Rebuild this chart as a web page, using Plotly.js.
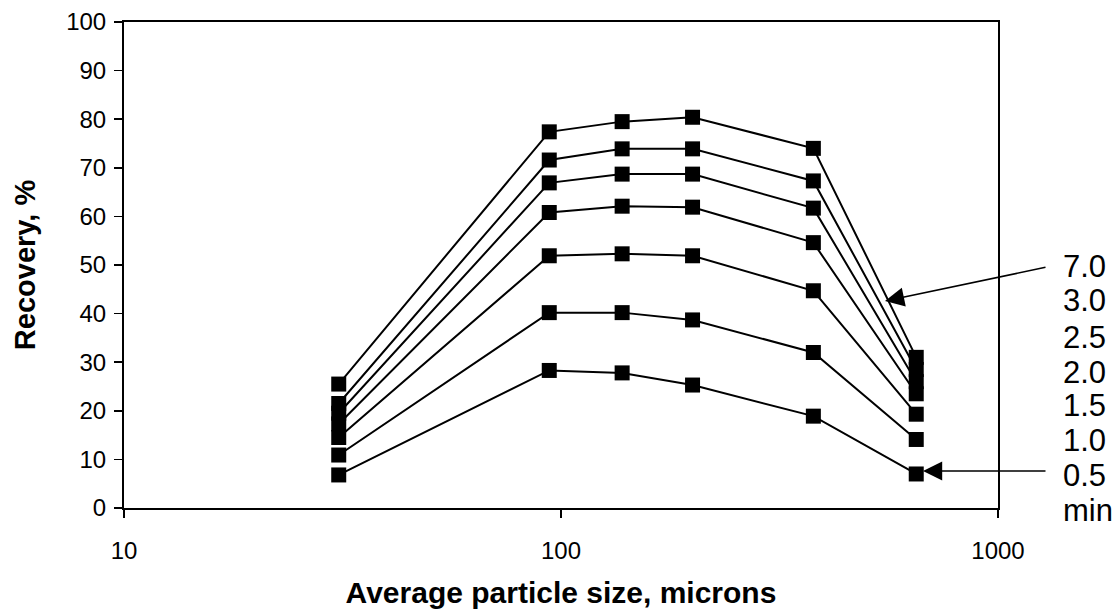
<!DOCTYPE html>
<html>
<head>
<meta charset="utf-8">
<script src="https://cdn.plot.ly/plotly-3.0.1.min.js"></script>
<style>
  html, body { margin: 0; padding: 0; background: #fff; }
  #chart { width: 1116px; height: 609px; }
</style>
</head>
<body>
<div id="chart"></div>
<script>
// Average particle size (microns)
const particleSize = [31, 94, 138, 200, 378, 650];

// Recovery (%) by flotation time
const timeLabels = ["7.0", "3.0", "2.5", "2.0", "1.5", "1.0", "0.5"];
const rec_7_0 = [25.5, 77.4, 79.5, 80.4, 74.0, 31.0];
const rec_3_0 = [21.5, 71.6, 73.9, 73.9, 67.3, 28.5];
const rec_2_5 = [19.5, 66.9, 68.7, 68.7, 61.7, 26.0];
const rec_2_0 = [17.3, 60.8, 62.1, 61.9, 54.6, 23.5];
const rec_1_5 = [14.5, 51.9, 52.3, 51.9, 44.7, 19.3];
const rec_1_0 = [10.9, 40.2, 40.2, 38.7, 32.0, 14.1];
const rec_0_5 = [6.8, 28.3, 27.8, 25.3, 18.9, 7.0];

const seriesList = [rec_7_0, rec_3_0, rec_2_5, rec_2_0, rec_1_5, rec_1_0, rec_0_5];

const traces = seriesList.map((ys, i) => ({
  x: particleSize,
  y: ys,
  name: timeLabels[i] + " min",
  type: "scatter",
  mode: "lines+markers",
  line: { color: "#000", width: 2 },
  marker: { symbol: "square", size: 15, color: "#000" },
  showlegend: false
}));

const font = { family: "Liberation Sans, Arial, sans-serif", color: "#000" };

// right-hand labels
const labelYs = [266, 300, 337, 372, 405, 440, 475]; // pixel rows of the labels
const annotations = [];
timeLabels.forEach((t, i) => {
  annotations.push({
    xref: "paper", yref: "paper",
    x: (1061 - 124) / 874, y: (508 - labelYs[i]) / 486,
    xanchor: "left", yanchor: "middle",
    text: t, showarrow: false,
    font: { family: font.family, size: 31, color: "#000" }
  });
});
annotations.push({
  xref: "paper", yref: "paper",
  x: (1061 - 124) / 874, y: (508 - 510) / 486,
  xanchor: "left", yanchor: "middle",
  text: "min", showarrow: false,
  font: { family: font.family, size: 31, color: "#000" }
});
// arrows
annotations.push({
  xref: "paper", yref: "paper",
  x: (885 - 124) / 874, y: (508 - 301) / 486,
  ax: 162, ay: -34, axref: "pixel", ayref: "pixel",
  text: "", showarrow: true,
  arrowhead: 2, arrowsize: 2.4, arrowwidth: 1.6, arrowcolor: "#000"
});
annotations.push({
  xref: "paper", yref: "paper",
  x: (923 - 124) / 874, y: (508 - 471) / 486,
  ax: 124, ay: 0, axref: "pixel", ayref: "pixel",
  text: "", showarrow: true,
  arrowhead: 2, arrowsize: 2.4, arrowwidth: 1.6, arrowcolor: "#000"
});

const layout = {
  width: 1116, height: 609,
  margin: { l: 124, r: 118, t: 22, b: 101 },
  paper_bgcolor: "#fff", plot_bgcolor: "#fff",
  font: font,
  xaxis: {
    type: "log",
    range: [1, 3],
    tickvals: [10, 100, 1000],
    ticktext: ["10", "100", "1000"],
    ticks: "outside", ticklen: 8, tickwidth: 1.5, tickcolor: "#000",
    ticklabelstandoff: 12,
    showline: true, linecolor: "#000", linewidth: 2, mirror: true,
    showgrid: false, zeroline: false,
    tickfont: { family: font.family, size: 24, color: "#000" },
    title: { text: "<b>Average particle size, microns</b>", font: { family: font.family, size: 30, color: "#000" }, standoff: 30 }
  },
  yaxis: {
    range: [0, 100],
    dtick: 10,
    tick0: 0,
    ticks: "outside", ticklen: 8, tickwidth: 1.5, tickcolor: "#000",
    ticklabelstandoff: 3,
    showline: true, linecolor: "#000", linewidth: 2, mirror: true,
    showgrid: false, zeroline: false,
    tickfont: { family: font.family, size: 24, color: "#000" },
    title: { text: "<b>Recovery, %</b>", font: { family: font.family, size: 29, color: "#000" }, standoff: 22 }
  },
  annotations: annotations,
  showlegend: false
};

Plotly.newPlot("chart", traces, layout, { displayModeBar: false, staticPlot: true });
</script>
</body>
</html>
